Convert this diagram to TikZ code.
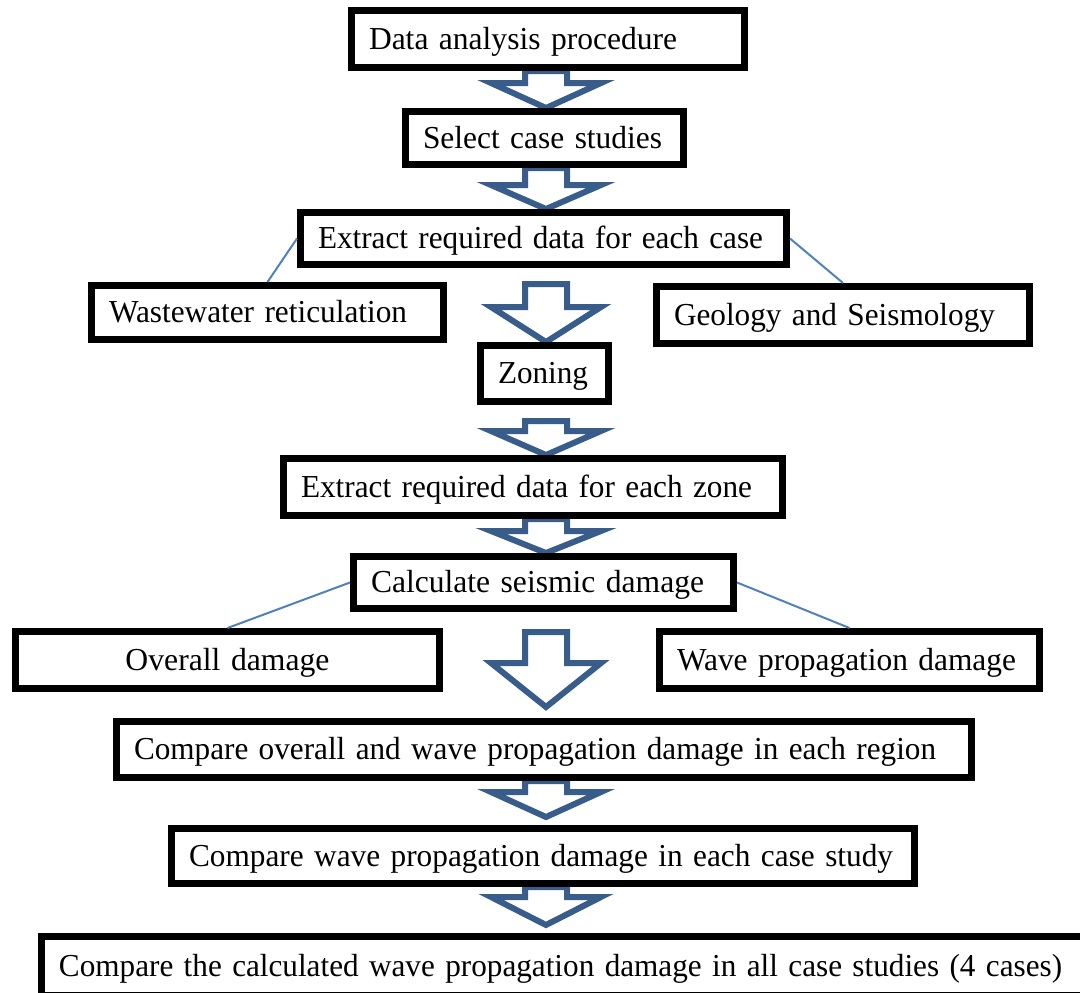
\documentclass[tikz,border=0pt]{standalone}
\usepackage{fontspec}
\setmainfont{Liberation Serif}
\usepackage{tikz}
\usetikzlibrary{calc}
\definecolor{arrowblue}{RGB}{56, 93, 138}
\definecolor{linkblue}{RGB}{79, 129, 189}
\pgfdeclarelayer{background}
\pgfsetlayers{background,main}

% one line of box text, set to the given width
\newcommand{\boxtext}[2]{\resizebox{#1pt}{\height}{#2}}

% hollow block arrow: from, to, gap below from, gap above to, head length
\newcommand{\blockarrow}[5]{%
  \begin{pgfonlayer}{background}
  \draw[barrow] let \p1=($(#1.south)+(0,#3)$), \p2=($(#2.north)+(0,-#4)$),
                    \p3=($(\p2)+(0,-#5)$) in
    (525pt,\y1) -- (567pt,\y1) -- (567pt,\y3) -- (601pt,\y3) -- (546pt,\y2)
    -- (491pt,\y3) -- (525pt,\y3) -- cycle;
  \end{pgfonlayer}}

\begin{document}
\begin{tikzpicture}[x=1pt, y=-1pt,
                box/.style={draw, line width=7pt, fill=white, align=left,
                            inner xsep=17.5pt, inner ysep=0pt,
                            text height=25pt, text depth=5pt,
                            minimum height=55pt,
                            font=\fontsize{32}{38}\selectfont},
                barrow/.style={draw=arrowblue, line width=6pt, fill=white},
                link/.style={draw=linkblue, line width=2pt}]
                \useasboundingbox (0,0) rectangle (1080,993);

                \node[box, text width=358pt, minimum height=57pt] (dap) at (548,39) {\boxtext{308}{Data analysis procedure}};
                \node[box, text width=243pt, minimum height=53pt] (sel) at (544.5,138) {\boxtext{239}{Select case studies}};
                \node[box, text width=451pt, minimum height=52pt] (excase) at (543.5,238.5) {\boxtext{445}{Extract required data for each case}};
                \node[box, text width=317pt, minimum height=54pt] (ww) at (267.5,312.5) {\boxtext{298}{Wastewater reticulation}};
                \node[box, text width=338pt, minimum height=57pt] (geo) at (843,315) {\boxtext{321}{Geology and Seismology}};
                \node[box, text width=93pt, minimum height=56pt] (zon) at (544.5,373.5) {\boxtext{90}{Zoning}};
                \node[box, text width=464pt, minimum height=57pt] (exzone) at (533,487) {\boxtext{451}{Extract required data for each zone}};
                \node[box, text width=345pt, minimum height=52pt] (calc) at (543.5,582.5) {\boxtext{333}{Calculate seismic damage}};
                \node[box, text width=389pt, minimum height=57pt, align=center] (overall) at (227.5,660) {\boxtext{204}{Overall\ damage}};
                \node[box, text width=345pt, minimum height=57pt] (wave) at (849.5,660) {\boxtext{339}{Wave propagation damage}};
                \node[box, text width=820pt, minimum height=56pt] (cmpreg) at (544,749.5) {\boxtext{802}{Compare overall\ and wave propagation damage in each region}};
                \node[box, text width=708pt, minimum height=55pt] (cmpcase) at (543,856) {\boxtext{704}{Compare wave propagation damage in each case study}};
                \node[box, text width=1030pt, minimum height=59pt] (final) at (574,966) {\boxtext{1003}{Compare the calculated wave propagation damage in all case studies (4 cases)}};

                \blockarrow{dap}{sel}{0}{0}{25}
                \blockarrow{sel}{excase}{0}{0}{24}
                \blockarrow{excase}{zon}{16}{0}{35}
                \blockarrow{zon}{exzone}{16}{0}{24}
                \blockarrow{exzone}{calc}{0}{0}{22}
                \blockarrow{calc}{cmpreg}{20}{11}{44}
                \blockarrow{cmpreg}{cmpcase}{0}{8}{25}
                \blockarrow{cmpcase}{final}{0}{8}{28}

                \draw[link] (excase.west) -- (ww.north);
                \draw[link] (excase.east) -- (geo.north);
                \draw[link] (calc.west) -- (overall.north);
                \draw[link] (calc.east) -- (wave.north);
\end{tikzpicture}
\end{document}
